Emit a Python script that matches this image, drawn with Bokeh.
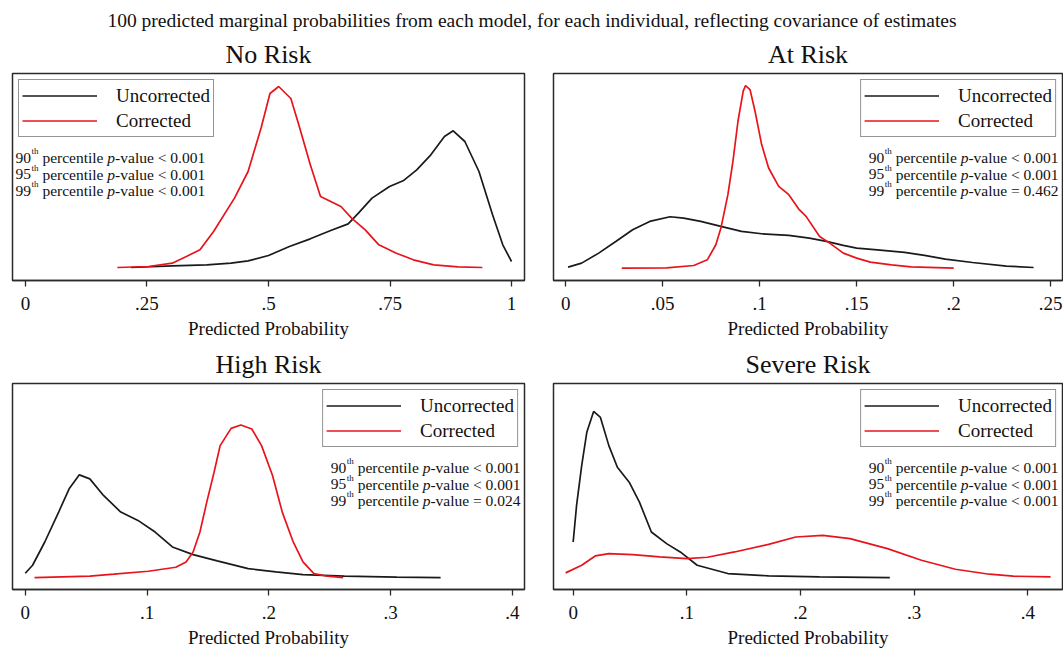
from bokeh.plotting import figure
from bokeh.layouts import column, row
from bokeh.models import FixedTicker, Legend, LegendItem, Range1d
from bokeh.core.properties import value
from bokeh.embed import file_html
from bokeh.resources import INLINE

SERIF = "Liberation Serif"
BLACK = "#1a1a1a"
RED = "#e8141c"
FRAME = "#2a2a2a"

suptitle = ("100 predicted marginal probabilities from each model, for each individual, "
            "reflecting covariance of estimates")
panel_titles = ["No Risk", "At Risk", "High Risk", "Severe Risk"]
series_labels = ["Uncorrected", "Corrected"]
x_label = "Predicted Probability"
pct_levels = ["90", "95", "99"]

# ---- ticks ----
no_risk_ticks = [0, 0.25, 0.5, 0.75, 1]
no_risk_tick_labels = ["0", ".25", ".5", ".75", "1"]
at_risk_ticks = [0, 0.05, 0.1, 0.15, 0.2, 0.25]
at_risk_tick_labels = ["0", ".05", ".1", ".15", ".2", ".25"]
high_risk_ticks = [0, 0.1, 0.2, 0.3, 0.4]
high_risk_tick_labels = ["0", ".1", ".2", ".3", ".4"]
severe_risk_ticks = [0, 0.1, 0.2, 0.3, 0.4]
severe_risk_tick_labels = ["0", ".1", ".2", ".3", ".4"]

# ---- p-values ----
no_risk_pvals = ["< 0.001", "< 0.001", "< 0.001"]
at_risk_pvals = ["< 0.001", "< 0.001", "= 0.462"]
high_risk_pvals = ["< 0.001", "< 0.001", "= 0.024"]
severe_risk_pvals = ["< 0.001", "< 0.001", "< 0.001"]

# ---- kernel densities (relative scale) ----
no_risk_unc_x = [0.217, 0.302, 0.373, 0.423, 0.458, 0.500, 0.543, 0.586, 0.628, 0.664, 0.685, 0.713,
                 0.749, 0.777, 0.805, 0.834, 0.862, 0.880, 0.904, 0.933, 0.961, 0.982, 1.000]
no_risk_unc_d = [0.00, 0.05, 0.08, 0.13, 0.20, 0.36, 0.63, 0.86, 1.11, 1.31, 1.63, 2.08,
                 2.43, 2.60, 2.93, 3.38, 3.93, 4.10, 3.78, 2.88, 1.58, 0.68, 0.18]
no_risk_cor_x = [0.189, 0.253, 0.302, 0.331, 0.359, 0.387, 0.430, 0.458, 0.485, 0.503, 0.521, 0.546, 0.562,
                 0.586, 0.607, 0.628, 0.649, 0.671, 0.699, 0.727, 0.763, 0.798, 0.840, 0.890, 0.940]
no_risk_cor_d = [0.00, 0.03, 0.13, 0.33, 0.53, 1.08, 2.08, 2.88, 4.20, 5.22, 5.43, 5.07, 4.30,
                 3.08, 2.13, 1.98, 1.83, 1.48, 1.13, 0.68, 0.43, 0.23, 0.08, 0.02, 0.00]

at_risk_unc_x = [0.0012, 0.0082, 0.017, 0.0258, 0.0345, 0.0433, 0.0538, 0.0608, 0.0696, 0.080, 0.0906, 0.101,
                 0.115, 0.1256, 0.1344, 0.1431, 0.150, 0.1606, 0.1747, 0.185, 0.1957, 0.2097, 0.2272, 0.2412]
at_risk_unc_d = [0.03, 0.15, 0.45, 0.80, 1.15, 1.40, 1.54, 1.50, 1.40, 1.25, 1.10, 1.03,
                 0.98, 0.90, 0.80, 0.68, 0.60, 0.55, 0.47, 0.38, 0.27, 0.17, 0.06, 0.02]
at_risk_cor_x = [0.0289, 0.052, 0.066, 0.073, 0.0774, 0.080, 0.0836, 0.0862, 0.0888, 0.0915, 0.0927, 0.095,
                 0.0976, 0.101, 0.1046, 0.1098, 0.115, 0.1204, 0.1239, 0.1309, 0.1361, 0.1431, 0.150,
                 0.157, 0.168, 0.178, 0.200]
at_risk_cor_d = [0.00, 0.01, 0.08, 0.25, 0.70, 1.20, 2.20, 3.20, 4.40, 5.30, 5.47, 5.35,
                 4.70, 3.70, 3.00, 2.45, 2.20, 1.75, 1.55, 0.95, 0.75, 0.45, 0.30,
                 0.18, 0.10, 0.04, 0.00]

high_risk_unc_x = [0.0, 0.006, 0.016, 0.0274, 0.036, 0.0444, 0.053, 0.0642, 0.0784, 0.0925, 0.1066, 0.1208,
                   0.1378, 0.1576, 0.183, 0.2057, 0.228, 0.262, 0.305, 0.341]
high_risk_unc_d = [0.13, 0.37, 1.07, 1.97, 2.67, 3.09, 2.97, 2.47, 1.97, 1.72, 1.37, 0.92,
                   0.69, 0.50, 0.27, 0.17, 0.09, 0.04, 0.01, 0.00]
high_risk_cor_x = [0.0076, 0.053, 0.0727, 0.101, 0.1236, 0.132, 0.1378, 0.1434, 0.149, 0.155, 0.160, 0.169,
                   0.177, 0.186, 0.194, 0.203, 0.211, 0.220, 0.228, 0.237, 0.248, 0.261]
high_risk_cor_d = [0.00, 0.04, 0.10, 0.19, 0.31, 0.47, 0.77, 1.37, 2.27, 3.17, 3.97, 4.49,
                   4.59, 4.47, 3.97, 3.07, 1.97, 1.07, 0.47, 0.12, 0.04, 0.00]

severe_risk_unc_x = [0.0, 0.003, 0.0075, 0.012, 0.018, 0.024, 0.0314, 0.0389, 0.0493, 0.0583, 0.0688, 0.0822,
                     0.0942, 0.1091, 0.136, 0.1719, 0.2167, 0.2786]
severe_risk_unc_d = [1.07, 2.17, 3.37, 4.37, 5.00, 4.82, 3.97, 3.32, 2.87, 2.27, 1.37, 1.02,
                     0.77, 0.37, 0.12, 0.05, 0.02, 0.00]
severe_risk_cor_x = [-0.0066, 0.0075, 0.0194, 0.0314, 0.0523, 0.0762, 0.100, 0.1181, 0.142, 0.1719, 0.1958,
                     0.2197, 0.2436, 0.2765, 0.3064, 0.3363, 0.3662, 0.3871, 0.420]
severe_risk_cor_d = [0.14, 0.37, 0.65, 0.72, 0.69, 0.62, 0.57, 0.61, 0.77, 1.00, 1.22,
                     1.27, 1.17, 0.87, 0.52, 0.25, 0.10, 0.04, 0.02]

# axis extents (Stata-like plot-region margins)
no_risk_xrange = (-0.0267, 1.0267)
at_risk_xrange = (-0.0063, 0.2561)
high_risk_xrange = (-0.0105, 0.4099)
severe_risk_xrange = (-0.0173, 0.4305)
no_risk_yrange = (-0.39, 5.82)
at_risk_yrange = (-0.37, 5.83)
high_risk_yrange = (-0.36, 5.84)
severe_risk_yrange = (-0.36, 5.84)

# Times / Liberation Serif advance widths (1/1000 em)
ADV = {' ': 250, 'p': 500, 'e': 444, 'r': 333, 'c': 444, 'n': 500, 't': 278, 'i': 278,
       'l': 278, 'h': 500, '-': 333, 'v': 500, 'a': 444, 'u': 500, '<': 564, '=': 564, '.': 250}
for _d in "0123456789":
    ADV[_d] = 500


def tw(s, fs):
    return sum(ADV[c] for c in s) / 1000.0 * fs


def add_pvalues(p, pvals, side, fw, fh, xr, yr):
    fs, fss = 15.5, 9.0
    baselines = [84, 100.5, 117]

    def X(px):
        return xr[0] + px / fw * (xr[1] - xr[0])

    def Y(py):
        return yr[1] - py / fh * (yr[1] - yr[0])

    norm_x, norm_y, norm_t = [], [], []
    th_x, th_y = [], []
    it_x, it_y = [], []
    for lvl, pv, b in zip(pct_levels, pvals, baselines):
        tail = "-value " + pv
        x_th = tw(lvl, fs) + 0.5
        x_perc = x_th + tw("th", fss) + tw(" ", fs)
        x_p = x_perc + tw("percentile", fs) + tw(" ", fs)
        x_val = x_p + 0.5 * fs
        total = x_val + tw(tail, fs)
        start = 3 if side == "left" else fw - 4 - total
        norm_x += [X(start), X(start + x_perc), X(start + x_val)]
        norm_y += [Y(b)] * 3
        norm_t += [lvl, "percentile", tail]
        th_x.append(X(start + x_th))
        th_y.append(Y(b - 6.5))
        it_x.append(X(start + x_p))
        it_y.append(Y(b))
    common = dict(text_font=value(SERIF), text_baseline="alphabetic", text_align="left",
                  text_color="#111111")
    p.text(x=norm_x, y=norm_y, text=norm_t, text_font_size="15.5px", **common)
    p.text(x=th_x, y=th_y, text=["th"] * 3, text_font_size="9px", **common)
    p.text(x=it_x, y=it_y, text=["p"] * 3, text_font_size="15.5px", text_font_style="italic", **common)


def panel(title, ux, ud, cx, cd, ticks, tick_labels, xr, yr, legend_loc, pvals, side,
          fw, fh, borders, title_standoff):
    p = figure(frame_width=fw, frame_height=fh, x_range=Range1d(*xr), y_range=Range1d(*yr),
               output_backend="svg", toolbar_location=None, y_axis_location=None,
               min_border_left=borders[0], min_border_right=borders[1],
               min_border_top=borders[2], min_border_bottom=borders[3],
               background_fill_color="white", border_fill_color="white",
               outline_line_color=FRAME, outline_line_width=1.5)
    p.title.text = title
    p.title.align = "center"
    p.title.text_font = SERIF
    p.title.text_font_size = "26px"
    p.title.text_font_style = "normal"
    p.title.text_color = "#111111"
    p.title.standoff = title_standoff
    p.grid.visible = False

    r1 = p.line(ux, ud, line_color=BLACK, line_width=1.7)
    r2 = p.line(cx, cd, line_color=RED, line_width=1.7)

    xa = p.xaxis[0]
    xa.ticker = FixedTicker(ticks=ticks)
    xa.major_label_overrides = dict(zip(ticks, tick_labels))
    xa.axis_label = x_label
    xa.axis_label_text_font = SERIF
    xa.axis_label_text_font_style = "normal"
    xa.axis_label_text_font_size = "19px"
    xa.axis_label_text_color = "#111111"
    xa.axis_label_standoff = 5
    xa.major_label_text_font = SERIF
    xa.major_label_text_font_size = "19px"
    xa.major_label_text_color = "#111111"
    xa.major_label_standoff = 10
    xa.major_tick_out = 6
    xa.major_tick_in = 0
    xa.minor_tick_line_color = None
    xa.axis_line_color = FRAME
    xa.axis_line_width = 1.5
    xa.major_tick_line_color = FRAME
    xa.major_tick_line_width = 1.3

    legend = Legend(items=[LegendItem(label=series_labels[0], renderers=[r1]),
                           LegendItem(label=series_labels[1], renderers=[r2])],
                    location=legend_loc, margin=6, padding=3, spacing=0,
                    glyph_width=75, glyph_height=25, label_standoff=19,
                    label_text_font=SERIF, label_text_font_size="19px",
                    label_text_color="#111111",
                    border_line_color=FRAME, border_line_width=1.3,
                    background_fill_color="white", background_fill_alpha=1.0)
    p.add_layout(legend)

    add_pvalues(p, pvals, side, fw, fh, xr, yr)
    return p


TOP_H = 32
top = figure(title=None, frame_width=1063, frame_height=TOP_H, x_range=Range1d(0, 1), y_range=Range1d(0, 1),
             output_backend="svg", toolbar_location=None, x_axis_location=None, y_axis_location=None,
             min_border_left=0, min_border_right=0, min_border_top=0, min_border_bottom=0,
             outline_line_color=None, background_fill_color="white", border_fill_color="white")
top.grid.visible = False
top.text(x=[0.5], y=[1 - 20 / TOP_H], text=[suptitle], text_align="center", text_baseline="middle",
         text_font=value(SERIF), text_font_size="19.5px", text_color="#111111")

FW_L, FW_R = 512, 509
p1 = panel(panel_titles[0], no_risk_unc_x, no_risk_unc_d, no_risk_cor_x, no_risk_cor_d,
           no_risk_ticks, no_risk_tick_labels, no_risk_xrange, no_risk_yrange, "top_left",
           no_risk_pvals, "left", FW_L, 207, (12, 14, 40, 63), 10)
p2 = panel(panel_titles[1], at_risk_unc_x, at_risk_unc_d, at_risk_cor_x, at_risk_cor_d,
           at_risk_ticks, at_risk_tick_labels, at_risk_xrange, at_risk_yrange, "top_right",
           at_risk_pvals, "right", FW_R, 207, (15, 1, 40, 63), 10)
p3 = panel(panel_titles[2], high_risk_unc_x, high_risk_unc_d, high_risk_cor_x, high_risk_cor_d,
           high_risk_ticks, high_risk_tick_labels, high_risk_xrange, high_risk_yrange, "top_right",
           high_risk_pvals, "right", FW_L, 206, (12, 14, 39, 60), 9)
p4 = panel(panel_titles[3], severe_risk_unc_x, severe_risk_unc_d, severe_risk_cor_x, severe_risk_cor_d,
           severe_risk_ticks, severe_risk_tick_labels, severe_risk_xrange, severe_risk_yrange, "top_right",
           severe_risk_pvals, "right", FW_R, 206, (15, 1, 39, 60), 9)

layout = column(top, row(p1, p2), row(p3, p4))

with open("out.html", "w") as f:
    f.write(file_html(layout, INLINE))
